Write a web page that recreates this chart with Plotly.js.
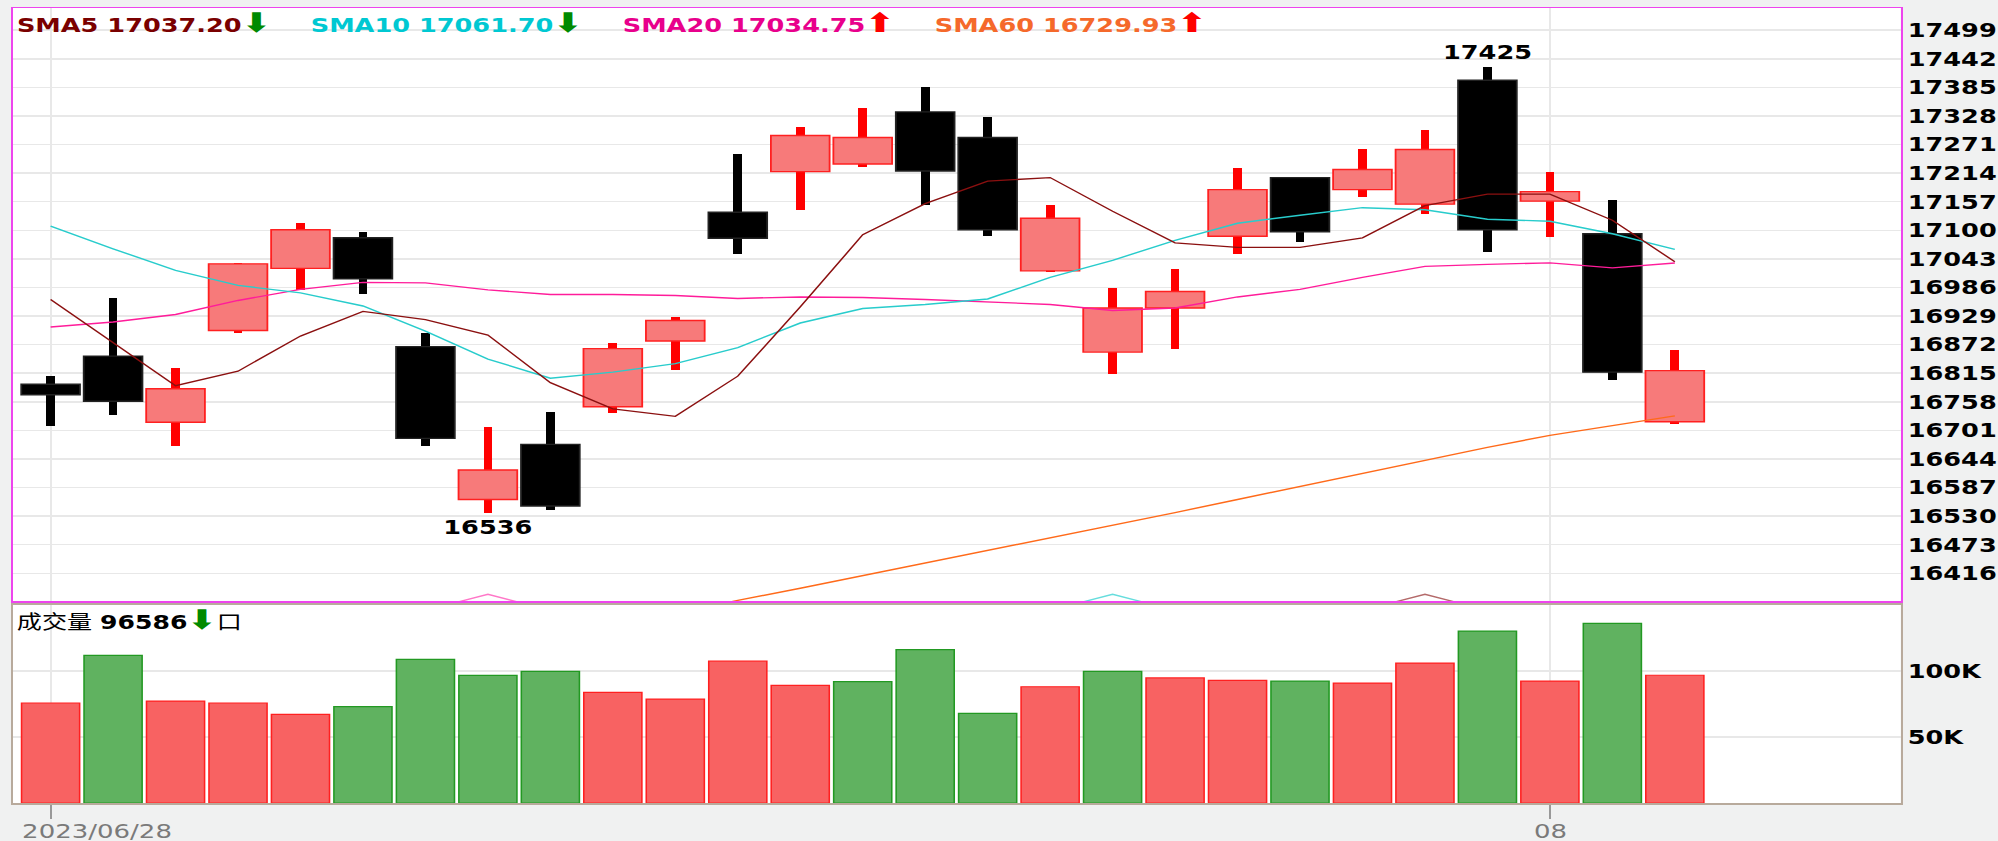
<!DOCTYPE html>
<html><head><meta charset="utf-8">
<script src="https://cdn.plot.ly/plotly-3.0.1.min.js"></script>
<style>
html,body{margin:0;padding:0;background:#f0f1f1;overflow:hidden;width:1998px;height:841px}
#chart{width:1537px;height:841px;transform-origin:0 0;}
</style></head><body>
<div id="chart"></div>
<script>
// ---------------- data ----------------
const dates = ['2023/06/28','2023/06/29','2023/06/30','2023/07/03','2023/07/04','2023/07/05','2023/07/06','2023/07/07','2023/07/10','2023/07/11','2023/07/12','2023/07/13','2023/07/14','2023/07/17','2023/07/18','2023/07/19','2023/07/20','2023/07/21','2023/07/24','2023/07/25','2023/07/26','2023/07/27','2023/07/28','2023/07/31','2023/08/01','2023/08/02','2023/08/03'];
const openP  = [16793,16849,16717,16900,17024,17085,16868,16563,16673,16748,16879,17136,17217,17232,17336,17285,17019,16857,16945,17088,17205,17181,17152,17399,17158,17093,16718];
const highP  = [16810,16964,16825,17035,17115,17096,16896,16707,16737,16875,16928,17253,17305,17344,17385,17325,17150,16984,17023,17225,17207,17263,17299,17425,17217,17161,16862];
const lowP   = [16710,16731,16669,16896,16980,16972,16670,16536,16542,16735,16822,17053,17140,17227,17150,17089,17016,16814,16863,17052,17077,17166,17133,17056,17087,16802,16713];
const closeP = [16772,16759,16784,17033,17101,17003,16685,16622,16550,16864,16920,17084,17289,17285,17218,17101,17124,16945,16978,17181,17097,17221,17261,17101,17177,16817,16820];
const volume = [75600,111600,77100,75600,67000,72800,108600,96500,99500,83700,78600,107200,88900,91800,115900,67700,87900,99500,94600,92700,92200,90700,105800,130000,92200,135800,96586];
const volUp  = [1,0,1,1,1,0,0,0,0,1,1,1,1,0,0,0,1,0,1,1,0,1,1,0,1,0,1];
const sma5   = [16962,16876,16790,16819,16889,16938,16922,16891,16796,16744,16729,16809,16947,17091,17153,17198,17205,17138,17075,17066,17066,17085,17149,17172,17172,17120,17037.20];
const sma10  = [17108,17063,17020,16990,16975,16949,16899,16843,16805,16817,16834,16866,16915,16944,16952,16963,17006,17040,17080,17114,17130,17145,17141,17122,17118,17093,17061.70];
const sma20  = [16907,16917,16932,16960,16982,16996,16995,16981,16972,16972,16970,16964,16967,16966,16962,16957,16952,16940,16945,16967,16982,17006,17028,17032,17035,17025,17034.75];
const sma60  = [null,null,null,null,null,null,null,null,null,null,16335,16362,16386,16411,16436,16461,16487,16511,16537,16563,16589,16615,16641,16667,16691,16710,16729.93];
// small clipped indicator peaks at bottom edge of the price panel
const capPinkX = [6,7,8],  capPinkY = [16342,16374,16342];
const capCyanX = [16,17,18], capCyanY = [16342,16374,16342];
const capRedX  = [21,22,23], capRedY  = [16342,16374,16342];
const priceTicks = [16416,16473,16530,16587,16644,16701,16758,16815,16872,16929,16986,17043,17100,17157,17214,17271,17328,17385,17442,17499];
const volTicks = [50000,100000];
const volTickText = ['50K','100K'];
const xLabelIdx = [0,24];
const xLabelText = ['2023/06/28','08'];
const legendText = ['SMA5 17037.20','SMA10 17061.70','SMA20 17034.75','SMA60 16729.93'];
const legendArrow = ['⬇','⬇','⬆','⬆'];
const volLabelValue = '96586';

// ---------------- layout helpers ----------------
const S = 1.3;                 // horizontal stretch of the whole picture
const W = 1537, H = 841;
const L = 12.7 / S, R = 98 / S, T = 7.5, B = 38;
const plotH = H - T - B, plotW = W - L - R;
const yPaper = ypx => (H - B - ypx) / plotH;
const xPaper = xfull => (xfull / S - L) / plotW;

const idx = dates.map((d, i) => i);
const up = idx.map(i => closeP[i] >= openP[i]);

const FONT = 'DejaVu Sans, Verdana, sans-serif';
const boldFont = (size, color) => ({family: FONT, size: size, color: color, weight: 'bold'});

const traces = [];
traces.push({
  type: 'bar', x: idx, base: lowP, y: idx.map(i => highP[i] - lowP[i]), width: 0.14,
  marker: {color: up.map(u => u ? '#ff0000' : '#000000'), line: {width: 0}},
  xaxis: 'x', yaxis: 'y', hoverinfo: 'skip'
});
traces.push({
  type: 'bar', x: idx, base: idx.map(i => Math.min(openP[i], closeP[i])),
  y: idx.map(i => Math.abs(closeP[i] - openP[i])), width: 0.94,
  marker: {color: up.map(u => u ? '#f77a7a' : '#000000'),
           line: {color: up.map(u => u ? '#ff2020' : '#222222'), width: 1.4}},
  xaxis: 'x', yaxis: 'y', hoverinfo: 'skip'
});
const line = (y, color, w) => ({type: 'scatter', mode: 'lines', x: idx, y: y,
  line: {color: color, width: w}, xaxis: 'x', yaxis: 'y', hoverinfo: 'skip', connectgaps: false});
traces.push(line(sma60, '#ff6a1a', 1.4));
traces.push(line(sma20, '#ff1c9a', 1.4));
traces.push(line(sma10, '#28cccc', 1.4));
traces.push(line(sma5, '#8b1010', 1.3));
const cap = (x, y, color) => ({type: 'scatter', mode: 'lines', x: x, y: y,
  line: {color: color, width: 1.3}, xaxis: 'x', yaxis: 'y', hoverinfo: 'skip'});
traces.push(cap(capPinkX, capPinkY, '#ff77c8'));
traces.push(cap(capCyanX, capCyanY, '#66dddd'));
traces.push(cap(capRedX, capRedY, '#b46a6a'));
traces.push({
  type: 'bar', x: idx, y: volume, width: 0.93,
  marker: {color: volUp.map(u => u ? '#f86262' : '#60b260'),
           line: {color: volUp.map(u => u ? '#ff2020' : '#229922'), width: 1.2}},
  xaxis: 'x2', yaxis: 'y2', hoverinfo: 'skip'
});

const xRange = [-0.602, 29.614];
const gridC = '#e8e8e8';
const layout = {
  width: W, height: H,
  margin: {l: L, r: R, t: T, b: B, pad: 0},
  paper_bgcolor: '#f0f1f1', plot_bgcolor: '#ffffff',
  showlegend: false, barmode: 'overlay', bargap: 0, hovermode: false,
  xaxis: {domain: [0, 1], range: xRange, anchor: 'y', showline: true, mirror: true,
    linecolor: '#ee44ee', linewidth: 1.5, showgrid: true, gridcolor: gridC, gridwidth: 1.5,
    tickvals: xLabelIdx, showticklabels: false, ticks: '', zeroline: false, fixedrange: true},
  yaxis: {domain: [yPaper(601), 1], range: [16360.4, 17543.2], side: 'right', anchor: 'x',
    showline: true, mirror: true, linecolor: '#ee44ee', linewidth: 1.5,
    tickvals: priceTicks, ticktext: priceTicks.map(String), tickfont: boldFont(19.7, '#000'),
    ticks: '', showgrid: true, gridcolor: gridC, gridwidth: 1.5, zeroline: false, fixedrange: true},
  xaxis2: {domain: [0, 1], range: xRange, anchor: 'y2', showline: true, mirror: true,
    linecolor: '#b8aa9c', linewidth: 1.5, showgrid: true, gridcolor: gridC, gridwidth: 1.5,
    tickvals: xLabelIdx, ticks: 'outside', ticklen: 14, tickcolor: '#999999', tickwidth: 1.5,
    showticklabels: false, zeroline: false, fixedrange: true},
  yaxis2: {domain: [0, yPaper(604.5)], range: [0, 150000], side: 'right', anchor: 'x2',
    showline: true, mirror: true, linecolor: '#b8aa9c', linewidth: 1.5,
    tickvals: volTicks, ticktext: volTickText, tickfont: boldFont(19.7, '#000'),
    ticks: '', showgrid: true, gridcolor: gridC, gridwidth: 1.5, zeroline: false, fixedrange: true},
  annotations: []
};

// legend row
const legendColor = ['#7a0000', '#00c8d2', '#e8008c', '#f5692b'];
const arrowColor = ['#008a00', '#008a00', '#ff0000', '#ff0000'];
const legendLeft = [15.6, 309, 621, 933];
const arrowSpan = (glyph, color) =>
  '<span style="color:' + color + ';font-size:27px;font-weight:bold">' + glyph + '</span>';
legendText.forEach((t, k) => {
  layout.annotations.push({
    xref: 'paper', yref: 'paper', x: xPaper(legendLeft[k]), y: yPaper(21.7),
    xanchor: 'left', yanchor: 'middle', showarrow: false, borderpad: 0,
    text: t + arrowSpan(legendArrow[k], arrowColor[k]),
    font: boldFont(19.7, legendColor[k])
  });
});
// volume label
layout.annotations.push({
  xref: 'paper', yref: 'paper', x: xPaper(15.6), y: yPaper(619.5),
  xanchor: 'left', yanchor: 'middle', showarrow: false, borderpad: 0,
  text: '<span style="font-weight:normal;font-family:Noto Sans CJK TC">成交量</span> <b>' + volLabelValue +
        '</b>' + arrowSpan('⬇', '#008a00') + '<span style="font-weight:normal;font-family:Noto Sans CJK TC">口</span>',
  font: {family: FONT + ', Noto Sans CJK TC', size: 19.3, color: '#000'}
});
// high / low labels
const iHi = highP.indexOf(Math.max(...highP));
const iLo = lowP.indexOf(Math.min(...lowP));
layout.annotations.push({xref: 'x', yref: 'y', x: iHi, y: highP[iHi], yanchor: 'bottom', yshift: 1,
  showarrow: false, text: String(highP[iHi]), font: boldFont(19.7, '#000')});
layout.annotations.push({xref: 'x', yref: 'y', x: iLo, y: lowP[iLo], yanchor: 'top', yshift: -1,
  showarrow: false, text: String(lowP[iLo]), font: boldFont(19.7, '#000')});
// date labels
layout.annotations.push({xref: 'paper', yref: 'paper', x: xPaper(19), y: yPaper(831), xanchor: 'left', yanchor: 'middle',
  showarrow: false, text: xLabelText[0], font: {family: FONT, size: 20, color: '#7a7a7a'}});
layout.annotations.push({xref: 'x2', yref: 'paper', x: xLabelIdx[1], y: yPaper(831), xanchor: 'center', yanchor: 'middle',
  showarrow: false, text: xLabelText[1], font: {family: FONT, size: 20, color: '#7a7a7a'}});

Plotly.newPlot('chart', traces, layout, {displayModeBar: false, staticPlot: true}).then(() => {
  document.getElementById('chart').style.transform = 'scaleX(' + S + ')';
});
</script>
</body></html>
